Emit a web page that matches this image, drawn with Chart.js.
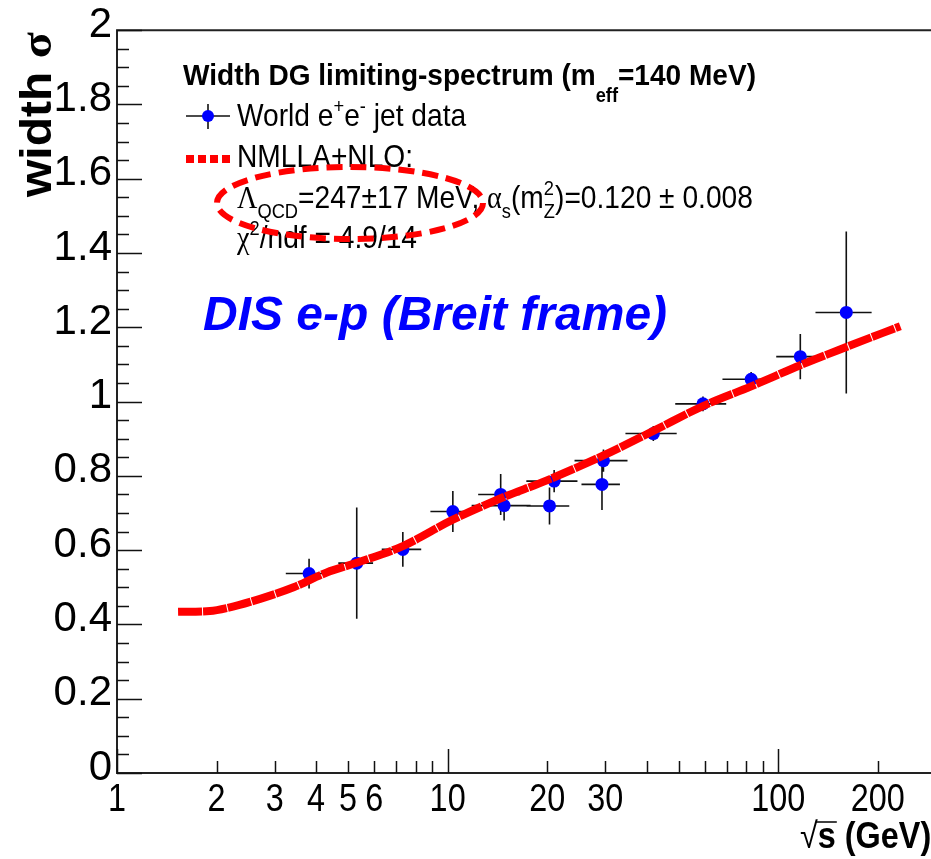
<!DOCTYPE html>
<html>
<head>
<meta charset="utf-8">
<script src="https://cdn.jsdelivr.net/npm/chart.js@4.4.1/dist/chart.umd.min.js"></script>
<style>
  html, body { margin: 0; padding: 0; background: #fff; overflow: hidden; }
  #wrap { width: 960px; height: 859px; }
</style>
</head>
<body>
<div id="wrap"><canvas id="chart" width="960" height="859"></canvas></div>
<script>
// data points
const ptX    = [3.81, 5.31, 7.32, 10.37, 14.47, 14.82, 20.33, 21.0, 29.3, 29.6, 41.9, 59.2, 82.8, 116.6, 160.6];
const ptY    = [0.537, 0.565, 0.602, 0.704, 0.750, 0.720, 0.719, 0.786, 0.777, 0.841, 0.914, 0.994, 1.060, 1.121, 1.240];
const ptXErr = [0.57, 0.64, 1.0, 1.5, 2.1, 3.0, 3.0, 3.7, 3.9, 5.4, 7.4, 10.4, 15, 18, 31];
const ptYErr = [0.04, 0.15, 0.047, 0.055, 0.055, 0.04, 0.05, 0.03, 0.069, 0.03, 0.02, 0.02, 0.02, 0.061, 0.218];

// NMLLA+NLO curve
const curveX = [1.53, 1.91, 2.15, 2.71, 3.42, 4.31, 5.31, 7.32, 10.37, 14.42, 19.96, 29.6, 41.9, 59.2, 82.8, 116.6, 160.6, 234];
const curveY = [0.434, 0.436, 0.444, 0.469, 0.500, 0.540, 0.566, 0.611, 0.682, 0.739, 0.788, 0.855, 0.921, 0.988, 1.041, 1.098, 1.147, 1.203];

// axis ticks
const xTickValues = [1, 2, 3, 4, 5, 6, 7, 8, 9, 10, 20, 30, 40, 50, 60, 70, 80, 90, 100, 200, 300];
const xTickLabels = ['1', '2', '3', '4', '5', '6', '', '', '', '10', '20', '30', '', '', '', '', '', '', '100', '200', ''];
const xMajor = [1, 10, 100];
const yTickValues = [0, 0.2, 0.4, 0.6, 0.8, 1, 1.2, 1.4, 1.6, 1.8, 2];
const yTickLabels = ['0', '0.2', '0.4', '0.6', '0.8', '1', '1.2', '1.4', '1.6', '1.8', '2'];

const SANS = '"Liberation Sans", Arial, sans-serif';
const SERIF = '"Liberation Serif", "DejaVu Serif", serif';

// text with sub/superscripts, squeezed horizontally by sx
function drawRich(ctx, x, y, parts, o) {
  ctx.save();
  ctx.translate(x, y);
  ctx.scale(o.sx || 1, 1);
  ctx.fillStyle = o.color || '#000';
  ctx.textBaseline = 'alphabetic';
  ctx.textAlign = 'left';
  let cx = 0;
  const small = o.size * 0.65;
  for (const p of parts) {
    if (p.stack) {
      ctx.font = (o.weight || 'normal') + ' ' + small + 'px ' + SANS;
      ctx.fillText(p.sup, cx, -o.size * 0.42);
      ctx.fillText(p.sub, cx, o.size * 0.32);
      cx += Math.max(ctx.measureText(p.sup).width, ctx.measureText(p.sub).width);
      continue;
    }
    const size = (p.sub || p.sup) ? small : o.size;
    ctx.font = (o.style || '') + ' ' + (o.weight || 'normal') + ' ' + size + 'px ' + (p.serif ? SERIF : SANS);
    const dy = p.sub ? o.size * (p.low || 0.3) : p.sup ? -o.size * 0.42 : 0;
    ctx.fillText(p.t, cx, dy);
    cx += ctx.measureText(p.t).width;
  }
  ctx.restore();
}

const errorBars = {
  id: 'errorBars',
  beforeDatasetsDraw(chart) {
    const { ctx, scales: { x, y } } = chart;
    ctx.save();
    ctx.strokeStyle = '#111';
    ctx.lineWidth = 1.6;
    ctx.beginPath();
    for (let i = 0; i < ptX.length; i++) {
      const px = x.getPixelForValue(ptX[i]);
      const py = y.getPixelForValue(ptY[i]);
      ctx.moveTo(px, y.getPixelForValue(ptY[i] - ptYErr[i]));
      ctx.lineTo(px, y.getPixelForValue(ptY[i] + ptYErr[i]));
      ctx.moveTo(x.getPixelForValue(ptX[i] - ptXErr[i]), py);
      ctx.lineTo(x.getPixelForValue(ptX[i] + ptXErr[i]), py);
    }
    ctx.stroke();
    ctx.restore();
  }
};

const frame = {
  id: 'frame',
  afterDraw(chart) {
    const { ctx, chartArea: a, scales: { x, y } } = chart;
    ctx.save();
    // frame
    ctx.strokeStyle = '#222';
    ctx.lineWidth = 2;
    ctx.beginPath();
    ctx.moveTo(a.right, a.top);
    ctx.lineTo(a.left, a.top);
    ctx.lineTo(a.left, a.bottom);
    ctx.lineTo(a.right, a.bottom);
    ctx.stroke();

    // inward ticks
    ctx.strokeStyle = '#111';
    ctx.lineWidth = 1.5;
    ctx.beginPath();
    for (let k = 0; k <= 40; k++) {
      const v = k * 0.05;
      const py = Math.round(y.getPixelForValue(v)) + 0.5;
      const len = k % 4 === 0 ? 25 : 12;
      ctx.moveTo(a.left, py);
      ctx.lineTo(a.left + len, py);
    }
    for (const v of xTickValues) {
      const px = Math.round(x.getPixelForValue(v)) + 0.5;
      const len = xMajor.includes(v) ? 24 : 12;
      ctx.moveTo(px, a.bottom);
      ctx.lineTo(px, a.bottom - len);
    }
    ctx.stroke();

    // x tick labels, squeezed like the original
    ctx.fillStyle = '#000';
    ctx.font = '39px ' + SANS;
    ctx.textAlign = 'center';
    ctx.textBaseline = 'alphabetic';
    xTickValues.forEach((v, i) => {
      if (!xTickLabels[i]) return;
      ctx.save();
      ctx.translate(x.getPixelForValue(v), 811);
      ctx.scale(0.83, 1);
      ctx.fillText(xTickLabels[i], 0, 0);
      ctx.restore();
    });
    ctx.textAlign = 'left';

    // y title, rotated
    ctx.save();
    ctx.translate(51, 197);
    ctx.rotate(-Math.PI / 2);
    ctx.scale(1, 0.92);
    ctx.font = 'bold 48px ' + SANS;
    ctx.fillText('width', 0, 0);
    const ww = ctx.measureText('width ').width;
    ctx.font = 'bold 48px ' + SERIF;
    ctx.fillText('σ', ww, 0);
    ctx.restore();

    // x title
    ctx.font = '36px ' + SANS;
    ctx.save();
    ctx.translate(800, 848);
    ctx.scale(0.9, 1);
    ctx.fillText('√', 0, 0);
    const rw = ctx.measureText('√').width;
    ctx.font = 'bold 36px ' + SANS;
    ctx.fillText('s (GeV)', rw, 0);
    const sw = ctx.measureText('s').width;
    ctx.restore();
    ctx.strokeStyle = '#000';
    ctx.lineWidth = 1.5;
    ctx.beginPath();
    ctx.moveTo(800 + rw * 0.9 - 2, 822);
    ctx.lineTo(800 + (rw + sw) * 0.9 + 1, 822);
    ctx.stroke();

    // legend
    drawRich(ctx, 183, 85, [{ t: 'Width DG limiting-spectrum (m' }, { t: 'eff', sub: true, low: 0.55 }, { t: '=140 MeV)' }],
      { size: 30, weight: 'bold', sx: 0.935 });

    ctx.strokeStyle = '#111';
    ctx.lineWidth = 1.6;
    ctx.beginPath();
    ctx.moveTo(186, 116); ctx.lineTo(230, 116);
    ctx.moveTo(208, 104); ctx.lineTo(208, 129);
    ctx.stroke();
    ctx.fillStyle = '#0000ff';
    ctx.beginPath();
    ctx.arc(208, 116, 6, 0, Math.PI * 2);
    ctx.fill();
    drawRich(ctx, 237, 126, [{ t: 'World e' }, { t: '+', sup: true }, { t: 'e' }, { t: '-', sup: true }, { t: ' jet data' }],
      { size: 32, sx: 0.88 });

    ctx.strokeStyle = '#ff0000';
    ctx.lineWidth = 8;
    ctx.setLineDash([8, 4]);
    ctx.beginPath();
    ctx.moveTo(186, 159); ctx.lineTo(232, 159);
    ctx.stroke();
    ctx.setLineDash([]);
    drawRich(ctx, 237, 167, [{ t: 'NMLLA+NLO:' }], { size: 32, sx: 0.88 });

    drawRich(ctx, 237, 208, [
      { t: 'Λ', serif: true }, { t: 'QCD', sub: true }, { t: '=247±17 MeV, ' },
      { t: 'α', serif: true }, { t: 's', sub: true }, { t: '(m' }, { stack: true, sup: '2', sub: 'Z' },
      { t: ')=0.120 ± 0.008' }
    ], { size: 32, sx: 0.88 });
    drawRich(ctx, 237, 248, [{ t: 'χ', serif: true }, { t: '2', sup: true }, { t: '/ndf = 4.9/14' }],
      { size: 32, sx: 0.88 });

    // dashed ellipse
    ctx.strokeStyle = '#ff0000';
    ctx.lineWidth = 6;
    ctx.setLineDash([16, 8]);
    ctx.beginPath();
    ctx.ellipse(350, 203, 133, 36, 0, 0, Math.PI * 2);
    ctx.stroke();
    ctx.setLineDash([]);

    // label
    drawRich(ctx, 203, 330, [{ t: 'DIS e-p (Breit frame)' }],
      { size: 48, weight: 'bold', style: 'italic', color: '#0000ff' });
    ctx.restore();
  }
};

new Chart(document.getElementById('chart').getContext('2d'), {
  type: 'scatter',
  data: {
    datasets: [
      {
        label: 'NMLLA+NLO',
        type: 'line',
        data: curveX.map((x, i) => ({ x: x, y: curveY[i] })),
        borderColor: '#ff0000',
        borderWidth: 8,
        borderDash: [24, 1],
        pointRadius: 0,
        fill: false,
        cubicInterpolationMode: 'monotone',
        order: 1
      },
      {
        label: 'World e+e- jet data',
        data: ptX.map((x, i) => ({ x: x, y: ptY[i] })),
        backgroundColor: '#0000ff',
        borderWidth: 0,
        pointRadius: 6.5,
        order: 2
      }
    ]
  },
  options: {
    responsive: false,
    animation: false,
    layout: { padding: { top: 21, right: 24, left: 0, bottom: 0 } },
    plugins: { legend: { display: false }, tooltip: { enabled: false } },
    scales: {
      x: {
        type: 'logarithmic',
        min: 1,
        max: 300,
        afterBuildTicks: s => { s.ticks = xTickValues.map(v => ({ value: v })); },
        afterFit: s => { s.height = 86; },
        grid: { display: false, drawTicks: false },
        border: { display: false },
        ticks: { display: false, autoSkip: false }
      },
      y: {
        min: 0,
        max: 2,
        afterBuildTicks: s => { s.ticks = yTickValues.map(v => ({ value: v })); },
        afterFit: s => { s.width = 117; },
        grid: { display: false, drawTicks: false },
        border: { display: false },
        ticks: {
          padding: 5,
          labelOffset: -5,
          color: '#000',
          font: { family: SANS, size: 42 },
          callback: (v, i) => yTickLabels[i]
        }
      }
    }
  },
  plugins: [errorBars, frame]
});
</script>
</body>
</html>
